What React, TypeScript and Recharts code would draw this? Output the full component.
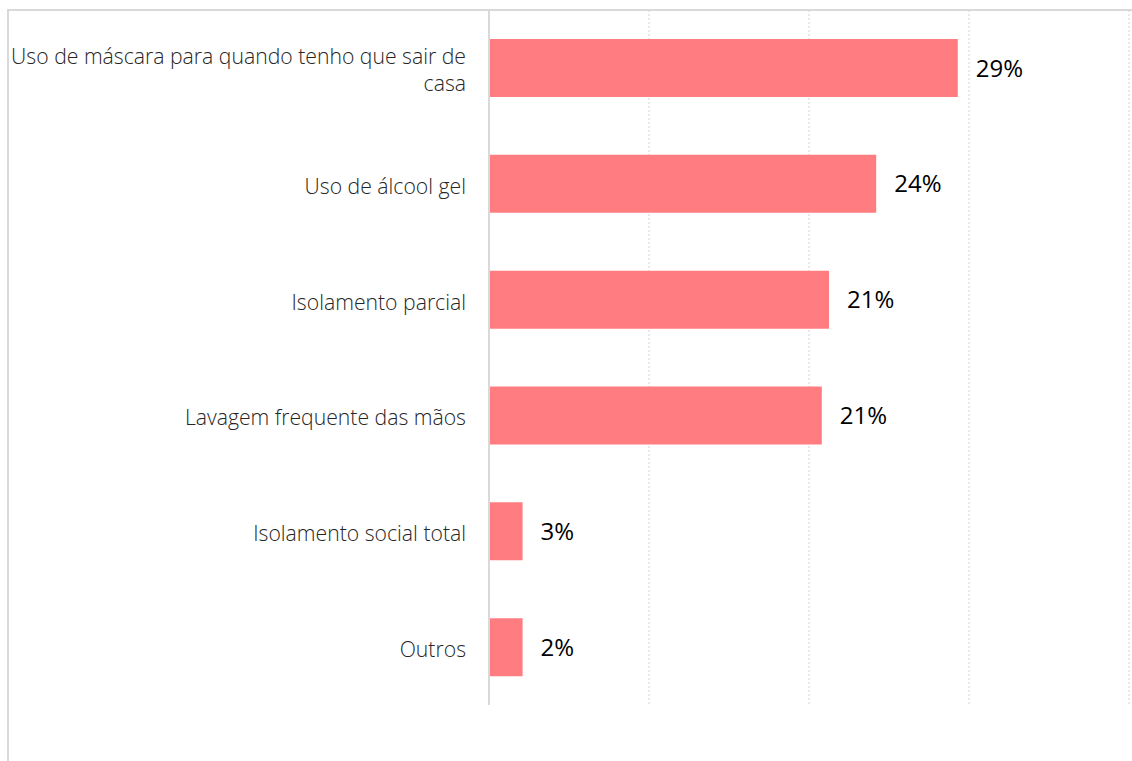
import React from 'react'
import { BarChart, Bar, XAxis, YAxis, CartesianGrid, LabelList } from 'recharts'

const categories = [
  'Uso de máscara para quando tenho que sair de casa',
  'Uso de álcool gel',
  'Isolamento parcial',
  'Lavagem frequente das mãos',
  'Isolamento social total',
  'Outros'
]
const values = [0.293, 0.242, 0.2125, 0.208, 0.021, 0.021]
const valueLabels = ['29%', '24%', '21%', '21%', '3%', '2%']
const xTicks = [0, 0.1, 0.2, 0.3, 0.4]

const data = categories.map((name, i) => ({ name, value: values[i], label: valueLabels[i] }))

const FONT = '"Open Sans", sans-serif'

// simple word wrap by character count
const wrap = (s: string, max: number) => {
  const lines: string[] = []
  let cur = ''
  s.split(' ').forEach((w) => {
    if (cur && (cur + ' ' + w).length > max) {
      lines.push(cur)
      cur = w
    } else {
      cur = cur ? cur + ' ' + w : w
    }
  })
  if (cur) lines.push(cur)
  return lines
}

const CategoryTick = ({ x, y, payload }: any) => {
  const lines = wrap(payload.value, 45)
  const lh = 27
  const start = y + 1 - ((lines.length - 1) * lh) / 2
  const tx = x - 15
  return (
    <text
      x={tx}
      y={start}
      textAnchor="end"
      dominantBaseline="central"
      fill="#262626"
      style={{ fontFamily: FONT, fontSize: 21.2, fontWeight: 300 }}
    >
      {lines.map((l, i) => (
        <tspan key={i} x={tx} y={start + i * lh}>
          {l}
        </tspan>
      ))}
    </text>
  )
}

export default function App() {
  return (
    <div style={{ position: 'absolute', left: 0, top: 0, width: 1132, height: 761, background: '#fff' }}>
      <div
        style={{
          position: 'absolute',
          left: 7,
          top: 9,
          width: 1125,
          height: 752,
          borderTop: '2px solid #d9d9d9',
          borderLeft: '2px solid #d9d9d9'
        }}
      />
      <div style={{ position: 'absolute', left: 0, top: 0 }}>
        <BarChart
          width={1132}
          height={761}
          data={data}
          layout="vertical"
          margin={{ top: 10, right: 3, bottom: 56, left: 0 }}
        >
          <CartesianGrid
            horizontal={false}
            stroke="#d0d0d0"
            strokeDasharray="2 2"
            verticalCoordinatesGenerator={({ offset }: any) =>
              xTicks.map((t) => offset.left + (t / 0.4) * offset.width)
            }
          />
          <XAxis type="number" domain={[0, 0.4]} ticks={xTicks} tick={false} axisLine={false} tickLine={false} height={0} />
          <YAxis
            type="category"
            dataKey="name"
            width={489}
            axisLine={{ stroke: '#d9d9d9', strokeWidth: 2 }}
            tickLine={false}
            tick={<CategoryTick />}
            interval={0}
          />
          <Bar dataKey="value" fill="#FF7C80" barSize={58} isAnimationActive={false}>
            <LabelList
              dataKey="label"
              position="right"
              offset={18}
              fill="#000"
              style={{ fontFamily: FONT, fontSize: 24 }}
            />
          </Bar>
        </BarChart>
      </div>
    </div>
  )
}
